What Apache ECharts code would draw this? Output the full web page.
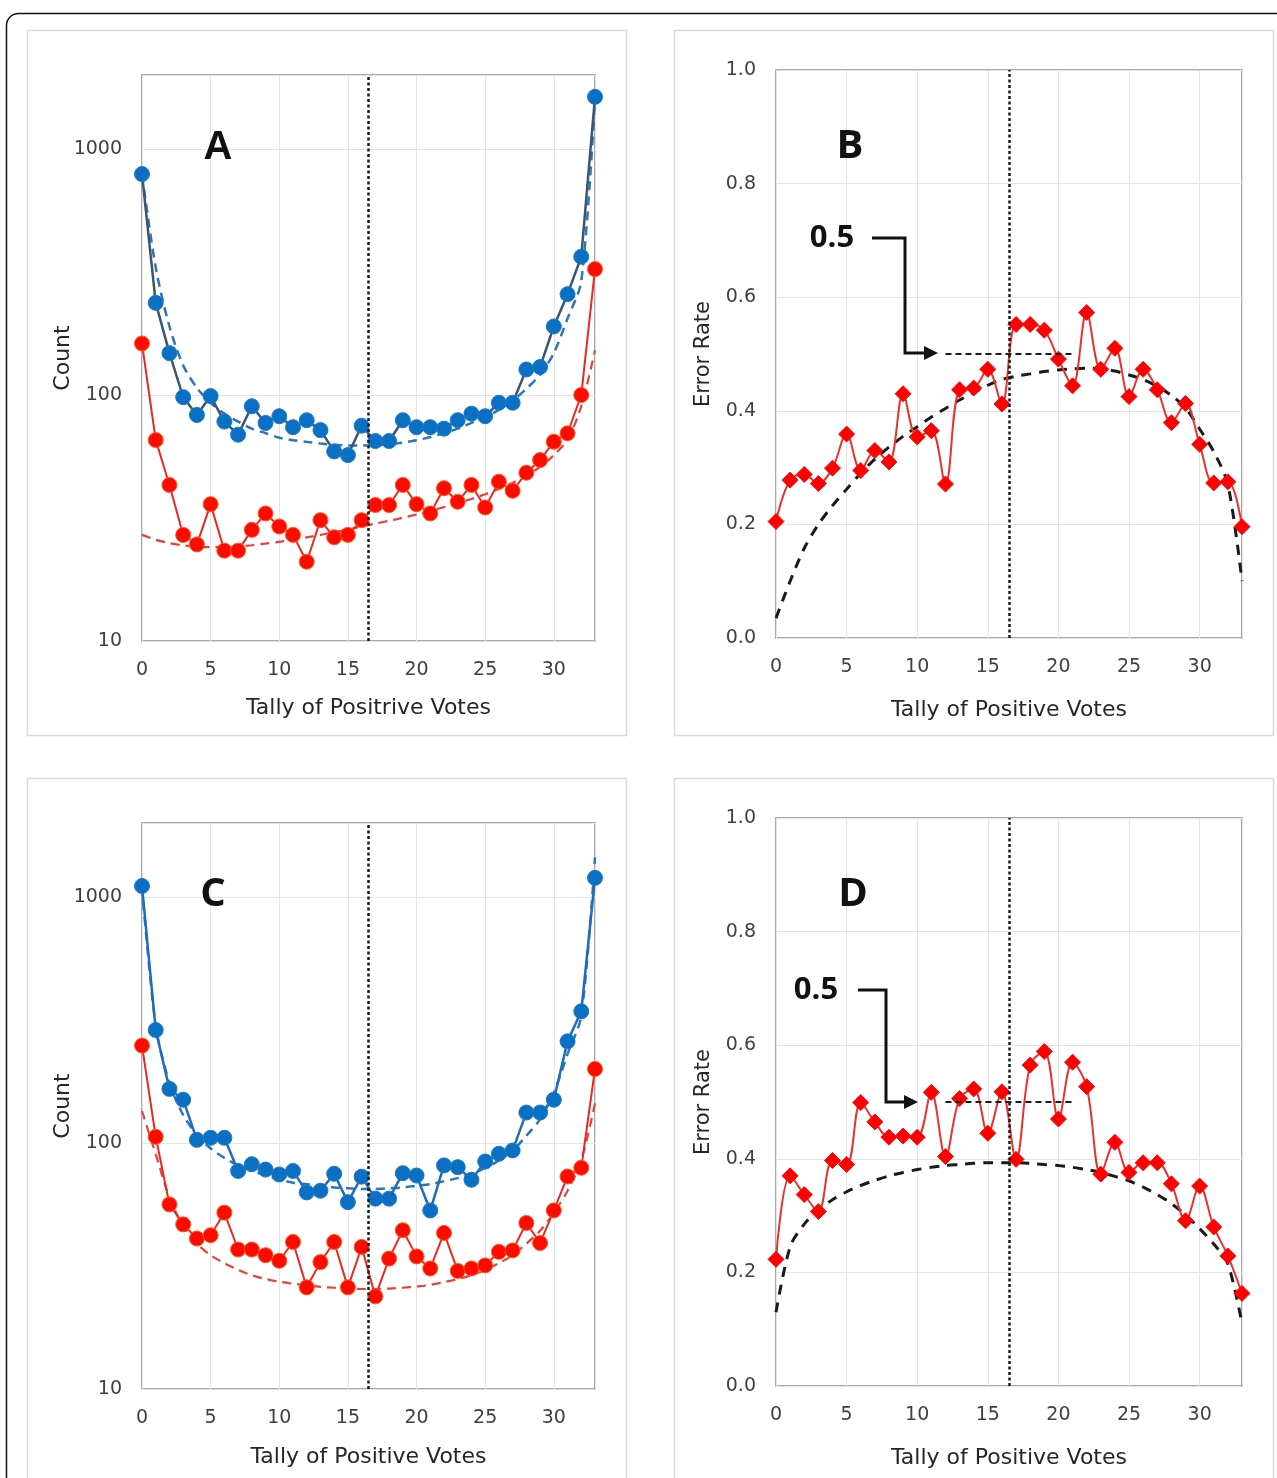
<!DOCTYPE html>
<html><head><meta charset="utf-8">
<script src="https://cdn.jsdelivr.net/npm/echarts@6/dist/echarts.min.js"></script>
<style>html,body{margin:0;padding:0;background:#fff}#c{width:1277px;height:1478px}</style>
</head><body><div id="c"></div>
<script>
// ---- data ----
const tally = [0,1,2,3,4,5,6,7,8,9,10,11,12,13,14,15,16,17,18,19,20,21,22,23,24,25,26,27,28,29,30,31,32,33];
const xTicks = [0,5,10,15,20,25,30];
const logTicks = [10,100,1000];
const rateTicks = [0.0,0.2,0.4,0.6,0.8,1.0];
const midLine = 16.5;
const halfRate = 0.5;
const halfLineFrom = 12, halfLineTo = 21;

// Panel A
const blueA = [791,237,148,98,83,99,78,69,90,77,82,74,79,72,59,57,75,65,65,79,74,74,73,79,84,82,93,93,127,130,190,257,365,1630];
const blueFitA = [790,330,190,132,107,93,84,78,73,70,67,65.5,64.5,63.5,62.8,62.4,62.3,62.5,63,64,65.5,67.5,70,73,77,81.5,87,95,106,121,148,205,290,1600];
const redA = [162,65.6,43.1,27.0,24.7,36.0,23.3,23.3,28.3,33.0,29.2,27.0,21.0,31.0,26.4,27.0,31.0,35.7,35.7,43.1,36.0,33.0,41.8,36.8,43.1,34.9,44.4,40.8,48.3,54.4,64.6,69.9,100,325];
const redFitA = [27,25.8,25,24.5,24.2,24.1,24.1,24.2,24.5,24.9,25.3,25.8,26.4,27.0,27.7,28.4,29.2,30.0,30.8,31.7,32.7,33.8,35.0,36.3,37.8,39.5,41.5,44,47,51,57,66,90,152];

// Panel B
const rateB = [0.205,0.278,0.288,0.272,0.299,0.359,0.295,0.330,0.310,0.430,0.354,0.365,0.271,0.437,0.440,0.473,0.412,0.552,0.552,0.542,0.491,0.444,0.573,0.473,0.510,0.425,0.473,0.437,0.379,0.413,0.341,0.273,0.275,0.196];
const fitB = [0.035,0.10,0.158,0.20,0.233,0.262,0.29,0.315,0.336,0.355,0.372,0.389,0.404,0.419,0.432,0.445,0.455,0.461,0.465,0.469,0.472,0.474,0.475,0.474,0.470,0.463,0.455,0.443,0.427,0.405,0.368,0.328,0.27,0.10];

// Panel C
const blueC = [1109,288,166,150,103,105,105,77,82,78,74.5,77,63,64,75,57.5,73,59.4,59.4,75.4,73.8,53.2,81.1,79.8,70.9,84.1,90.4,93.3,133,133,150,259,343,1197];
const blueFitC = [1100,300,175,130,108,95,87,81,77,74,71,69,68,67,66,65.5,65,65,65.5,66,67,68,70,72,75,79,85,93,107,125,160,230,330,1450];
const redC = [249,106,56.3,46.7,40.9,42.2,52.1,36.9,36.9,35.0,33.2,39.6,25.9,32.8,39.6,25.9,37.8,23.8,33.9,44.2,34.6,30.9,43.1,30.2,30.9,31.8,36.1,36.6,47.3,39.2,53.2,73.1,79.3,200];
const redFitC = [135,90,60,46,39,35,32.5,30.5,29,28,27.3,26.8,26.4,26.0,25.8,25.6,25.5,25.5,25.6,25.8,26.1,26.5,27.2,28.0,29.0,30.5,32.5,35,39,44,52,64,85,145];

// Panel D
const rateD = [0.223,0.370,0.337,0.307,0.397,0.390,0.499,0.465,0.438,0.440,0.438,0.517,0.404,0.506,0.523,0.445,0.518,0.399,0.565,0.589,0.470,0.570,0.527,0.373,0.429,0.376,0.393,0.393,0.356,0.291,0.352,0.280,0.229,0.163];
const fitD = [0.13,0.245,0.285,0.31,0.328,0.342,0.353,0.362,0.37,0.376,0.381,0.385,0.388,0.39,0.392,0.393,0.393,0.393,0.392,0.39,0.388,0.385,0.381,0.376,0.369,0.361,0.35,0.337,0.321,0.301,0.277,0.25,0.215,0.11];

// ---- chart ----
const pair = arr => tally.map((x,i) => [x, arr[i]]);
const TICK_FONT = 'DejaVu Sans';
const grids = [
  {left:142, top:75, width:453, height:566},
  {left:776, top:70, width:466, height:568},
  {left:142, top:823, width:453, height:566},
  {left:776, top:818, width:466, height:568}
].map(g => Object.assign(g, {show:true, borderColor:'#8c8c8c', borderWidth:1.5, backgroundColor:'transparent', containLabel:false}));

const xNames = ['Tally of Positrive Votes','Tally of Positive Votes','Tally of Positive Votes','Tally of Positive Votes'];
const xGaps = [56, 61, 57, 61];
const xAxes = [0,1,2,3].map(i => ({
  type:'value', gridIndex:i, min:tally[0], max:tally[tally.length-1], interval:5,
  axisLine:{show:false}, axisTick:{show:false},
  splitLine:{show:true, lineStyle:{color:'#e4e4e4', width:1}},
  axisLabel:{color:'#404040', fontSize:19, fontFamily:TICK_FONT, margin:20,
    formatter: v => xTicks.includes(v) ? String(v) : ''},
  name:xNames[i], nameLocation:'middle', nameGap:xGaps[i], nameMoveOverlap:false,
  nameTextStyle:{fontSize:22, color:'#262626', fontFamily:TICK_FONT}
}));

const logAxis = i => ({
  type:'log', logBase:10, gridIndex:i, min:logTicks[0], max:2000,
  axisLine:{show:false}, axisTick:{show:false},
  splitLine:{show:true, lineStyle:{color:'#e4e4e4', width:1}},
  axisLabel:{color:'#404040', fontSize:19, fontFamily:TICK_FONT, margin:20,
    formatter: v => logTicks.includes(Math.round(v)) ? String(Math.round(v)) : ''},
  name:'Count', nameLocation:'middle', nameGap:68, nameRotate:90, nameMoveOverlap:false,
  nameTextStyle:{fontSize:22, color:'#262626', fontFamily:TICK_FONT}
});
const rateAxis = i => ({
  type:'value', gridIndex:i, min:rateTicks[0], max:rateTicks[rateTicks.length-1], interval:0.2,
  axisLine:{show:false}, axisTick:{show:false},
  splitLine:{show:true, lineStyle:{color:'#e4e4e4', width:1}},
  axisLabel:{color:'#404040', fontSize:19, fontFamily:TICK_FONT, margin:20,
    formatter: v => v.toFixed(1)},
  name:'Error Rate', nameLocation:'middle', nameGap:62, nameRotate:90, nameMoveOverlap:false,
  nameTextStyle:{fontSize:21, color:'#262626', fontFamily:TICK_FONT}
});
const yAxes = [logAxis(0), rateAxis(1), logAxis(2), rateAxis(3)];

const vLine = {silent:true, symbol:'none', animation:false, label:{show:false},
  lineStyle:{color:'#1a1a1a', width:2.5, type:[3,2.5]}, data:[{xAxis:midLine}]};
const halfLine = {silent:true, symbol:'none', animation:false, label:{show:false},
  lineStyle:{color:'#1a1a1a', width:2, type:[6,4]},
  data:[[{coord:[halfLineFrom, halfRate]},{coord:[halfLineTo, halfRate]}]]};

function fit(idx, data, color, width, dash) {
  return {type:'line', xAxisIndex:idx, yAxisIndex:idx, data:pair(data), showSymbol:false, symbol:'none',
    smooth:0.3, z:2, lineStyle:{color:color, width:width, type:dash}, silent:true};
}
function pts(idx, data, lineColor, lineW, mColor, mBorder, sym, size, smooth) {
  return {type:'line', xAxisIndex:idx, yAxisIndex:idx, data:pair(data), symbol:sym, symbolSize:size,
    showAllSymbol:true, smooth:smooth||false, z:3,
    lineStyle:{color:lineColor, width:lineW},
    itemStyle:{color:mColor, borderColor:mBorder, borderWidth:1}, silent:true};
}

const series = [
  // A
  fit(0, blueFitA, '#2e75b6', 2.5, [9,6]),
  fit(0, redFitA, '#e8413a', 2.2, [9,6]),
  pts(0, blueA, '#3a5674', 2.5, '#0a70c4', '#1f78c8', 'circle', 15),
  Object.assign(pts(0, redA, '#e52a22', 2, '#ff0a00', '#ff5a1a', 'circle', 15), {markLine:vLine}),
  // B
  fit(1, fitB, '#1a1a1a', 3, [10,8]),
  Object.assign(pts(1, rateB, '#e8322c', 2, '#ff0000', '#ee1010', 'diamond', 16, 0.35), {markLine:vLine}),
  {type:'line', xAxisIndex:1, yAxisIndex:1, data:[], markLine:halfLine},
  // C
  fit(2, blueFitC, '#2e75b6', 2.5, [9,6]),
  fit(2, redFitC, '#e8413a', 2.2, [9,6]),
  pts(2, blueC, '#1f6cbd', 2.5, '#0a70c4', '#1f78c8', 'circle', 15),
  Object.assign(pts(2, redC, '#e52a22', 2, '#ff0a00', '#ff5a1a', 'circle', 15), {markLine:vLine}),
  // D
  fit(3, fitD, '#1a1a1a', 3, [10,8]),
  Object.assign(pts(3, rateD, '#e8322c', 2, '#ff0000', '#ee1010', 'diamond', 16, 0.35), {markLine:vLine}),
  {type:'line', xAxisIndex:3, yAxisIndex:3, data:[], markLine:halfLine}
];

const letter = (t, x, y, fam) => ({type:'text', z:10, style:{text:t, x:x, y:y, align:'center', verticalAlign:'middle',
  fontSize:40, fontWeight:'bold', fontFamily:fam, fill:'#111'}});
const box = (x, y, w, h) => ({type:'rect', z:-1, shape:{x:x, y:y, width:w, height:h},
  style:{fill:null, stroke:'#dadada', lineWidth:1.5}});
const arrow = (pts, tip) => [
  {type:'polyline', z:10, shape:{points:pts}, style:{fill:null, stroke:'#111', lineWidth:3}},
  {type:'polygon', z:10, shape:{points:[[tip[0]-14, tip[1]-7],[tip[0], tip[1]],[tip[0]-14, tip[1]+7]]}, style:{fill:'#111'}}
];
const label05 = (x, y) => ({type:'text', z:10, style:{text:'0.5', x:x, y:y, align:'center', verticalAlign:'middle',
  fontSize:31, fontWeight:'bold', fontFamily:'Open Sans', fill:'#111'}});

const graphic = [
  {type:'rect', z:-2, shape:{x:6.5, y:13.5, width:1320, height:1520, r:12}, style:{fill:null, stroke:'#111', lineWidth:1.5}},
  box(27.5, 30.5, 599, 705), box(674.5, 30.5, 599, 705),
  box(27.5, 778.5, 599, 760), box(674.5, 778.5, 599, 760),
  letter('A', 218, 148, 'Liberation Sans'), letter('B', 850, 147, 'Open Sans'),
  letter('C', 213, 895, 'Open Sans'), letter('D', 853, 895, 'Open Sans'),
  label05(832, 238), label05(816, 990),
  ...arrow([[872,238],[905,238],[905,353],[926,353]], [938,353]),
  ...arrow([[858,990],[886,990],[886,1102],[906,1102]], [918,1102])
];

const chart = echarts.init(document.getElementById('c'), null, {renderer:'canvas'});
chart.setOption({animation:false, backgroundColor:'#fff', grid:grids, xAxis:xAxes, yAxis:yAxes, series:series, graphic:graphic});
</script>
</body></html>
